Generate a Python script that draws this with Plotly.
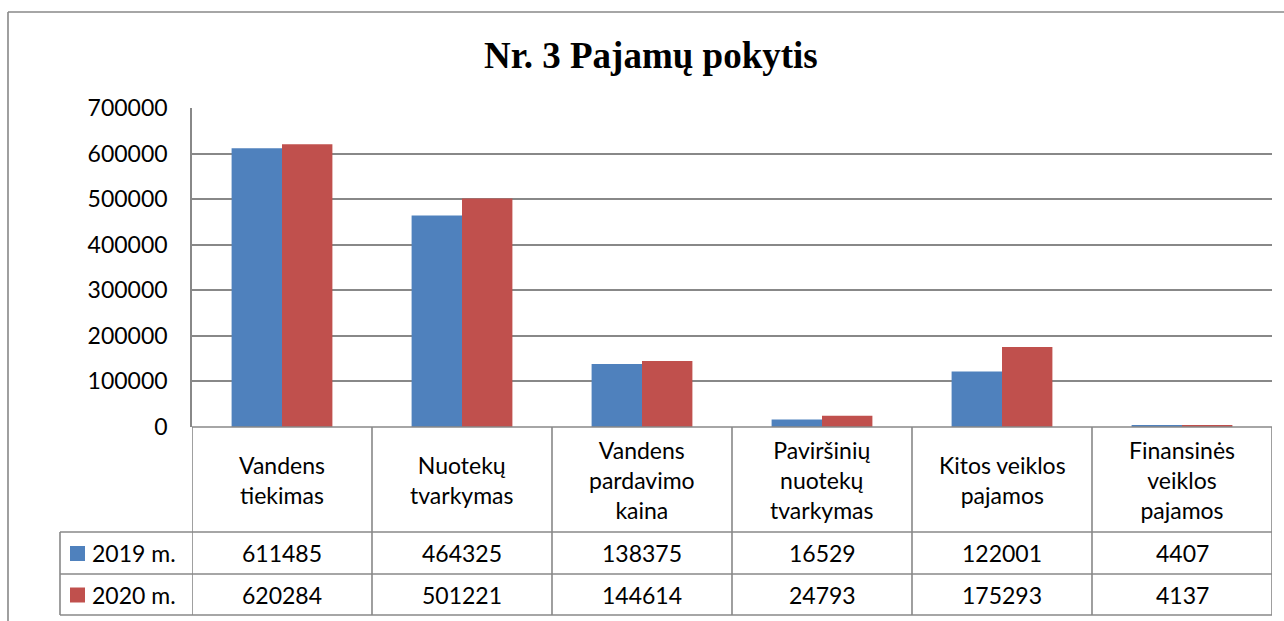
import plotly.graph_objects as go

W, H = 1284, 621

categories = ["Vandens<br>tiekimas", "Nuotekų<br>tvarkymas", "Vandens<br>pardavimo<br>kaina",
              "Paviršinių<br>nuotekų<br>tvarkymas", "Kitos veiklos<br>pajamos",
              "Finansinės<br>veiklos<br>pajamos"]
series_names = ["2019 m.", "2020 m."]
values_2019 = [611485, 464325, 138375, 16529, 122001, 4407]
values_2020 = [620284, 501221, 144614, 24793, 175293, 4137]
colors = ["#4F81BD", "#C0504D"]
y_ticks = [0, 100000, 200000, 300000, 400000, 500000, 600000, 700000]
title = "Nr. 3 Pajamų pokytis"

FONT = "Lato"
FS = 23
GRID = "#888888"

def px(x):
    return x / W

def py(y):
    return 1 - y / H

# layout in pixels
PL, PR, PT, PB = 192, 1272, 108, 427
ROW1, ROW2, ROW3 = 532, 574, 615
LEG_L = 60

idx = list(range(len(categories)))
fig = go.Figure()
for name, vals, col in zip(series_names, [values_2019, values_2020], colors):
    fig.add_trace(go.Bar(x=idx, y=vals, name=name, marker_color=col,
                         marker_line_width=0, showlegend=False))

shapes = []
line = dict(color=GRID, width=1.6)
shapes.append(dict(type="line", xref="paper", yref="paper", x0=px(PL), x1=px(PR), y0=py(PB), y1=py(PB), line=line))
for yy in [ROW1, ROW2, ROW3]:
    shapes.append(dict(type="line", xref="paper", yref="paper", x0=px(LEG_L), x1=px(PR), y0=py(yy), y1=py(yy), line=line))
for i in range(len(categories) + 1):
    shapes.append(dict(type="line", xref="x", yref="paper", x0=i - 0.5, x1=i - 0.5, y0=py(PB), y1=py(ROW3), line=line))
shapes.append(dict(type="line", xref="paper", yref="paper", x0=px(LEG_L), x1=px(LEG_L), y0=py(ROW1), y1=py(ROW3), line=line))
# outer chart border
shapes.append(dict(type="line", xref="paper", yref="paper", x0=px(8), x1=px(8), y0=py(12), y1=0, line=line))
shapes.append(dict(type="line", xref="paper", yref="paper", x0=px(8), x1=1, y0=py(12), y1=py(12), line=line))

ann = []
ann.append(dict(text="<b>" + title + "</b>", xref="paper", yref="paper", x=px(651), y=py(56),
                showarrow=False, font=dict(family="Liberation Serif", size=37, color="black"),
                xanchor="center", yanchor="middle"))
for i, c in enumerate(categories):
    ann.append(dict(text=c, xref="x", yref="paper", x=i, y=py((PB + ROW1) / 2), showarrow=False,
                    font=dict(family=FONT, size=FS, color="black"), xanchor="center", yanchor="middle"))
    for vals, (ya, yb) in zip([values_2019, values_2020], [(ROW1, ROW2), (ROW2, ROW3)]):
        ann.append(dict(text=str(vals[i]), xref="x", yref="paper", x=i, y=py((ya + yb) / 2), showarrow=False,
                        font=dict(family=FONT, size=FS, color="black"), xanchor="center", yanchor="middle"))
for name, col, (ya, yb) in zip(series_names, colors, [(ROW1, ROW2), (ROW2, ROW3)]):
    yc = (ya + yb) / 2
    shapes.append(dict(type="rect", xref="paper", yref="paper", x0=px(70), x1=px(85), y0=py(yc + 8), y1=py(yc - 7),
                       fillcolor=col, line=dict(width=0)))
    ann.append(dict(text=name, xref="paper", yref="paper", x=px(90), y=py(yc), showarrow=False,
                    font=dict(family=FONT, size=FS, color="black"), xanchor="left", yanchor="middle"))

fig.update_layout(
    template="none",
    width=W, height=H, margin=dict(l=0, r=0, t=0, b=0, pad=0, autoexpand=False),
    paper_bgcolor="white", plot_bgcolor="white",
    bargap=0.44, bargroupgap=0, barmode="group",
    shapes=shapes, annotations=ann,
    xaxis=dict(domain=[px(PL), px(PR)], range=[-0.5, len(categories) - 0.5], showticklabels=False,
               showgrid=False, zeroline=False, showline=False, automargin=False),
    yaxis=dict(domain=[py(PB), py(PT)], range=[0, 700000], tickvals=y_ticks,
               ticktext=[str(v) for v in y_ticks], showgrid=True, gridcolor=GRID, gridwidth=1.6,
               zeroline=False, showline=True, linecolor=GRID, linewidth=1.6, automargin=False,
               ticks="", ticklabelstandoff=18,
               tickfont=dict(family=FONT, size=FS, color="black")),
)

fig.write_html("out.html", config={"displayModeBar": False},
               post_script="document.body.style.margin='0';document.body.style.overflow='hidden';")
